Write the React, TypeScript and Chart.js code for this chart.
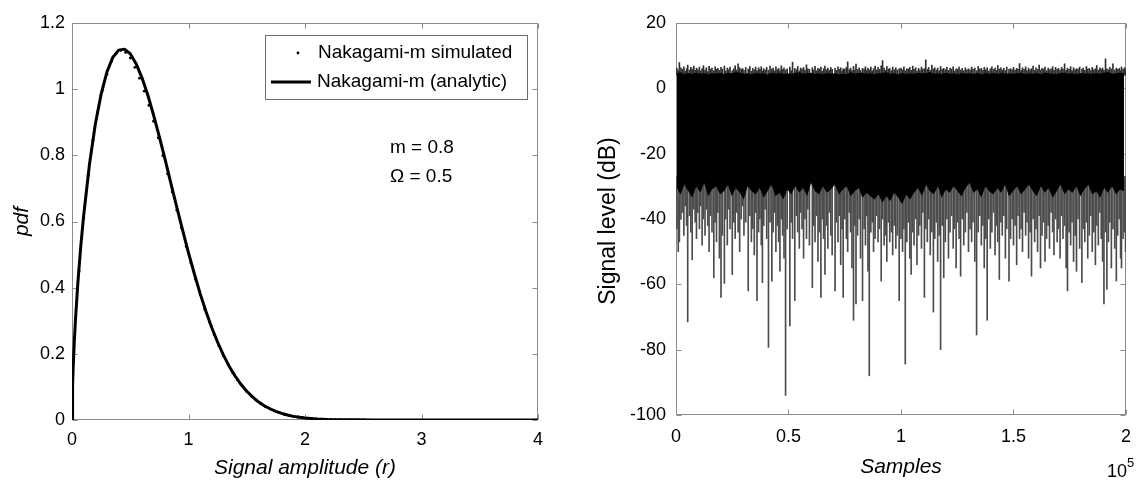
import React, { useEffect, useRef } from "react";
import { Chart, registerables } from "chart.js";

Chart.register(...registerables);

const FONT = '"Liberation Sans", Arial, Helvetica, sans-serif';

// ---------------- Left panel: Nakagami-m pdf ----------------
const rTicks = [0, 1, 2, 3, 4];
const pdfTicks = [0, 0.2, 0.4, 0.6, 0.8, 1, 1.2];

const analyticR = [0, 0.005, 0.01, 0.02, 0.03, 0.05, 0.075, 0.1, 0.15, 0.2, 0.25, 0.3, 0.35, 0.4, 0.45, 0.5, 0.55, 0.6, 0.65, 0.7, 0.75, 0.8, 0.85, 0.9, 0.95, 1.0, 1.05, 1.1, 1.15, 1.2, 1.25, 1.3, 1.35, 1.4, 1.45, 1.5, 1.55, 1.6, 1.65, 1.7, 1.75, 1.8, 1.85, 1.9, 1.95, 2.0, 2.1, 2.2, 2.3, 2.4, 2.6, 3.0, 3.5, 4.0];
const analyticPdf = [0, 0.104, 0.158, 0.239, 0.305, 0.413, 0.524, 0.618, 0.773, 0.894, 0.985, 1.052, 1.096, 1.118, 1.121, 1.107, 1.077, 1.035, 0.983, 0.922, 0.856, 0.786, 0.714, 0.643, 0.573, 0.505, 0.442, 0.382, 0.328, 0.279, 0.235, 0.196, 0.162, 0.133, 0.108, 0.087, 0.070, 0.055, 0.043, 0.034, 0.026, 0.020, 0.015, 0.011, 0.0085, 0.0063, 0.0034, 0.0017, 0.0008, 0.0004, 0.0001, 0, 0, 0];

const simR = [0.02, 0.06, 0.10, 0.14, 0.18, 0.22, 0.26, 0.30, 0.34, 0.38, 0.42, 0.46, 0.50, 0.54, 0.58, 0.62, 0.66, 0.70, 0.74, 0.78, 0.82, 0.86, 0.90, 0.94, 0.98, 1.02, 1.06, 1.10, 1.14, 1.18, 1.22, 1.26, 1.30, 1.34, 1.38, 1.42, 1.46, 1.50, 1.54, 1.58, 1.62, 1.66, 1.70, 1.74, 1.78, 1.82, 1.86, 1.90, 1.94, 1.98, 2.02, 2.06, 2.10, 2.14, 2.18, 2.22, 2.26, 2.30, 2.34, 2.38, 2.42, 2.46, 2.50];
const simPdf = [0.25, 0.45, 0.61, 0.74, 0.845, 0.93, 0.995, 1.045, 1.085, 1.108, 1.117, 1.111, 1.094, 1.066, 1.033, 0.994, 0.951, 0.903, 0.853, 0.799, 0.744, 0.689, 0.634, 0.580, 0.525, 0.475, 0.425, 0.379, 0.335, 0.296, 0.258, 0.225, 0.194, 0.167, 0.143, 0.121, 0.103, 0.086, 0.072, 0.060, 0.049, 0.040, 0.033, 0.027, 0.022, 0.017, 0.014, 0.011, 0.009, 0.007, 0.0055, 0.0043, 0.0033, 0.0026, 0.002, 0.0015, 0.0011, 0.0008, 0.0006, 0.0004, 0.0003, 0.0002, 0.0001];

// ---------------- Right panel: signal level (dB) vs samples (x in units of 10^5) ----------------
const sampleTicks = [0, 0.5, 1, 1.5, 2];
const dbTicks = [-100, -80, -60, -40, -20, 0, 20];

// edges of the dense black core
const edgeX = [0.004, 0.02, 0.037, 0.055, 0.072, 0.09, 0.108, 0.125, 0.143, 0.16, 0.178, 0.196, 0.213, 0.231, 0.248, 0.266, 0.284, 0.301, 0.319, 0.336, 0.354, 0.372, 0.389, 0.407, 0.424, 0.442, 0.46, 0.477, 0.495, 0.512, 0.53, 0.548, 0.565, 0.583, 0.6, 0.618, 0.636, 0.653, 0.671, 0.688, 0.706, 0.724, 0.741, 0.759, 0.776, 0.794, 0.812, 0.829, 0.847, 0.864, 0.882, 0.9, 0.917, 0.935, 0.952, 0.97, 0.988, 1.005, 1.023, 1.04, 1.058, 1.076, 1.093, 1.111, 1.128, 1.146, 1.164, 1.181, 1.199, 1.216, 1.234, 1.252, 1.269, 1.287, 1.304, 1.322, 1.34, 1.357, 1.375, 1.392, 1.41, 1.428, 1.445, 1.463, 1.48, 1.498, 1.516, 1.533, 1.551, 1.568, 1.586, 1.604, 1.621, 1.639, 1.656, 1.674, 1.692, 1.709, 1.727, 1.744, 1.762, 1.78, 1.797, 1.815, 1.832, 1.85, 1.868, 1.885, 1.903, 1.92, 1.938, 1.956, 1.973, 1.991];
const edgeTop = [
  4.6, 4.9, 4.3, 4.7, 4.4, 4.8, 4.5, 4.6, 4.3, 4.7,
  4.5, 4.8, 4.4, 4.7, 4.6, 4.9, 4.8, 4.4, 4.6, 4.3,
  4.7, 4.5, 4.6, 4.2, 4.8, 4.5, 4.7, 4.4, 4.6, 4.5,
  4.8, 4.9, 4.5, 4.6, 4.8, 4.4, 4.6, 4.3, 4.7, 4.5,
  4.6, 4.3, 4.5, 4.4, 4.9, 4.5, 4.7, 4.8, 4.4, 4.6,
  4.3, 4.6, 4.7, 4.9, 4.5, 4.6, 4.3, 4.7, 4.4, 4.6,
  4.5, 4.7, 4.6, 4.6, 5.0, 4.5, 4.6, 4.4, 4.8, 4.5,
  4.6, 4.3, 4.7, 4.5, 4.6, 4.4, 4.7, 4.3, 4.6, 4.5,
  4.7, 4.4, 4.8, 4.5, 4.6, 4.5, 4.6, 4.8, 4.4, 4.6,
  4.5, 4.7, 4.3, 4.8, 4.6, 4.5, 4.4, 4.7, 4.8, 4.5,
  4.6, 4.3, 4.7, 4.5, 4.6, 4.4, 4.7, 4.5, 4.8, 5.0,
  4.5, 4.6, 4.8, 4.6,
];
const edgeBottom = [
  -30.5, -32.5, -29.5, -31.5, -33.5, -30, -32, -29, -33, -31,
  -30, -32.5, -31.5, -29.5, -33, -30.5, -32, -34, -30, -31.5,
  -32.5, -30.5, -33.5, -31.5, -29.5, -33, -32, -34, -31, -32.5,
  -30, -32, -30.5, -33, -29, -31.5, -32.5, -30, -32, -31,
  -29.5, -32.5, -31, -30, -33, -31.5, -30.5, -33.5, -32, -33,
  -34, -32.5, -35, -33, -34.5, -32, -33.5, -35.5, -32.5, -34,
  -32, -30.5, -33, -29.5, -31.5, -32.5, -30, -33.5, -31, -32,
  -30, -31.5, -33, -30.5, -29, -32, -31, -33.5, -30, -31.5,
  -32.5, -30.5, -32, -29.5, -33, -31.5, -30, -32.5, -31, -29.5,
  -31.5, -33, -30, -32, -30.5, -33.5, -31.5, -29.5, -32.5, -31,
  -32, -30, -33, -31, -29.5, -32.5, -31.5, -33.5, -30.5, -32,
  -30, -32.5, -31, -31.5,
];

// individual samples: position, upper excursion and fade depth
const spikeX = [
  0.004, 0.01, 0.015, 0.022, 0.028, 0.035, 0.041, 0.047, 0.052, 0.06, 0.066, 0.072, 0.079, 0.085, 0.091, 0.097,
  0.104, 0.11, 0.116, 0.122, 0.129, 0.135, 0.141, 0.147, 0.153, 0.16, 0.168, 0.174, 0.18, 0.186, 0.193, 0.2,
  0.206, 0.215, 0.221, 0.228, 0.234, 0.24, 0.25, 0.257, 0.263, 0.27, 0.276, 0.283, 0.29, 0.296,
  0.302, 0.31, 0.321, 0.328, 0.335, 0.341, 0.348, 0.354, 0.36, 0.367, 0.373, 0.379, 0.384, 0.39, 0.396,
  0.403, 0.411, 0.418, 0.426, 0.432, 0.438, 0.444, 0.45, 0.456, 0.462, 0.468, 0.474, 0.48, 0.487, 0.494,
  0.506, 0.512, 0.518, 0.528, 0.535, 0.541, 0.548, 0.554, 0.56, 0.567, 0.573, 0.58, 0.586, 0.593,
  0.606, 0.612, 0.618, 0.625, 0.631, 0.637, 0.644, 0.65, 0.656, 0.662, 0.669, 0.675, 0.682, 0.688, 0.694,
  0.707, 0.713, 0.72, 0.726, 0.732, 0.738, 0.743, 0.75, 0.757, 0.763, 0.77, 0.776, 0.782, 0.789, 0.795,
  0.8, 0.807, 0.814, 0.82, 0.829, 0.836, 0.842, 0.848, 0.853, 0.859, 0.866, 0.872, 0.878, 0.885, 0.892,
  0.898, 0.905, 0.912, 0.918, 0.925, 0.931, 0.937, 0.944, 0.95, 0.957, 0.963, 0.97, 0.977, 0.984, 0.992,
  1.0, 1.007, 1.013, 1.019, 1.026, 1.032, 1.039, 1.045, 1.052, 1.058, 1.065, 1.071, 1.078, 1.084, 1.091, 1.097,
  1.104, 1.11, 1.117, 1.123, 1.13, 1.137, 1.144, 1.15, 1.157, 1.163, 1.17, 1.176, 1.183, 1.19, 1.197,
  1.204, 1.211, 1.218, 1.225, 1.232, 1.238, 1.245, 1.252, 1.258, 1.265, 1.272, 1.279, 1.286, 1.293,
  1.3, 1.307, 1.314, 1.32, 1.328, 1.336, 1.343, 1.35, 1.357, 1.364, 1.37, 1.377, 1.383, 1.39, 1.397,
  1.404, 1.411, 1.418, 1.424, 1.43, 1.437, 1.444, 1.45, 1.457, 1.464, 1.47, 1.48, 1.487, 1.494,
  1.5, 1.507, 1.514, 1.52, 1.527, 1.534, 1.54, 1.547, 1.554, 1.56, 1.567, 1.574, 1.58, 1.587, 1.594,
  1.6, 1.607, 1.614, 1.62, 1.627, 1.634, 1.64, 1.647, 1.654, 1.66, 1.667, 1.674, 1.68, 1.687, 1.694,
  1.7, 1.707, 1.714, 1.72, 1.727, 1.734, 1.74, 1.747, 1.754, 1.76, 1.767, 1.774, 1.78, 1.787, 1.794,
  1.804, 1.81, 1.817, 1.824, 1.83, 1.837, 1.844, 1.85, 1.857, 1.864, 1.87, 1.877, 1.884, 1.89, 1.896,
  1.902, 1.909, 1.915, 1.922, 1.928, 1.935, 1.942, 1.95, 1.957, 1.963, 1.97, 1.976, 1.98, 1.987, 1.994, 1.998,
];
const spikeMax = [
  6.1, 5.4, 7.9, 6.3, 5.8, 6.6, 5.2, 6.0, 7.1, 5.6, 6.4, 5.9, 6.8, 5.5, 6.2, 5.7,
  6.5, 5.3, 6.0, 6.9, 5.6, 6.3, 5.1, 6.7, 5.9, 6.2, 5.4, 6.6, 5.8, 6.1, 5.5, 6.4,
  5.9, 6.8, 5.3, 6.2, 5.7, 6.5, 5.4, 6.0, 6.9, 5.6, 7.5, 6.3, 5.8, 6.1,
  5.5, 6.4, 5.9, 6.7, 5.2, 6.1, 5.7, 6.5, 5.4, 6.3, 5.8, 6.6, 5.3, 6.0, 5.6,
  6.4, 5.5, 6.8, 5.9, 6.2, 5.3, 6.6, 5.7, 6.1, 5.4, 6.9, 5.8, 6.3, 5.6, 6.0,
  6.5, 5.4, 8.0, 6.1, 5.7, 6.7, 5.3, 6.2, 5.9, 6.4, 5.5, 7.2, 6.0, 5.8,
  6.3, 5.6, 6.7, 5.4, 6.1, 5.9, 6.5, 5.2, 6.0, 6.8, 5.7, 6.2, 5.5, 6.4, 5.8,
  6.1, 5.5, 6.6, 5.8, 6.3, 5.3, 6.0, 5.9, 6.4, 8.1, 5.7, 6.2, 5.4, 6.7, 5.6,
  7.4, 5.8, 6.3, 5.5, 6.1, 5.9, 6.6, 5.4, 6.2, 5.7, 6.5, 5.3, 6.0, 6.8, 5.6,
  6.4, 5.8, 6.9, 8.5, 6.2, 5.5, 6.7, 5.9, 6.1, 5.4, 6.5, 5.7, 6.3, 5.6, 6.0,
  6.2, 5.7, 6.6, 5.4, 6.0, 5.9, 6.4, 5.5, 6.8, 5.8, 6.3, 5.3, 6.1, 5.6, 6.5, 5.9,
  6.0, 8.7, 5.8, 6.4, 5.5, 7.1, 5.9, 6.3, 5.6, 6.2, 5.4, 6.7, 5.8, 6.1, 5.7,
  6.4, 5.5, 6.2, 5.9, 6.6, 5.3, 6.0, 5.8, 6.5, 5.6, 6.1, 5.4, 6.3, 5.7,
  6.0, 5.6, 6.5, 5.8, 6.2, 5.4, 6.7, 5.9, 6.1, 5.5, 6.4, 5.7, 6.3, 5.3, 6.0,
  6.6, 5.8, 6.2, 5.5, 7.0, 5.9, 6.3, 5.6, 6.1, 5.4, 6.5, 5.8, 6.0, 5.7,
  6.4, 5.6, 6.1, 5.9, 7.6, 5.5, 6.3, 5.8, 6.6, 5.4, 6.2, 5.7, 6.0, 6.8, 5.5,
  6.3, 5.8, 7.1, 5.6, 6.1, 5.9, 6.5, 5.4, 6.2, 5.7, 6.0, 6.6, 5.5, 6.4, 5.8,
  6.1, 5.6, 6.4, 5.9, 7.5, 5.5, 6.2, 5.8, 6.6, 5.4, 6.3, 5.7, 6.0, 5.9, 6.5,
  5.8, 6.2, 5.5, 6.7, 5.9, 6.1, 5.4, 6.4, 5.7, 6.0, 7.0, 5.6, 6.3, 5.8, 6.2,
  5.5, 9.0, 6.0, 5.7, 6.4, 5.9, 7.5, 5.6, 6.2, 5.8, 6.1, 5.4, 6.5, 5.9, 6.3, 5.7,
];
const spikeMin = [
  -43, -50, -47, -40, -38, -45, -36, -42, -71.5, -39, -44, -52.5, -37, -41, -46, -38,
  -43, -36, -48, -40, -45, -37, -42, -50, -39, -44, -58, -41, -47, -38, -52, -64,
  -45, -59.7, -40, -48, -37, -43, -57, -41, -46, -38, -44, -50, -40, -36,
  -45, -41, -62, -39, -47, -43, -51, -38, -65, -44, -40, -48, -59.5, -42, -37,
  -46, -79.3, -41, -59, -44, -38, -50, -42, -47, -56, -40, -45, -52, -94, -43,
  -72.7, -41, -46, -65, -39, -44, -49, -38, -43, -52, -40, -46, -37, -48,
  -61, -42, -47, -39, -53, -44, -64, -40, -46, -57, -42, -49, -38, -45, -51,
  -62, -41, -47, -39, -54, -43, -64, -40, -46, -50, -38, -44, -55, -71, -42,
  -66, -45, -40, -52, -65, -43, -48, -39, -56, -88, -44, -41, -50, -46, -39,
  -47, -43, -59, -40, -48, -45, -53, -41, -47, -44, -51, -42, -49, -45, -65,
  -46, -50, -43, -84.4, -47, -41, -52, -57, -44, -48, -40, -54, -45, -42, -49, -38,
  -64, -43, -47, -40, -51, -44, -68.5, -46, -41, -53, -45, -80, -42, -58, -47,
  -40, -52, -44, -39, -49, -43, -55, -41, -46, -57.5, -40, -48, -44, -38,
  -50, -43, -47, -41, -53, -75.5, -44, -39, -48, -42, -55, -46, -71, -40, -49,
  -44, -38, -51, -42, -47, -58.5, -41, -45, -39, -52, -43, -59, -46, -40,
  -48, -42, -54, -39, -46, -43, -50, -38, -45, -41, -52, -44, -57.5, -40, -47,
  -43, -50, -39, -55, -45, -41, -53, -46, -42, -49, -38, -44, -51, -40, -47,
  -43, -52, -39, -46, -42, -55, -62, -44, -48, -41, -53, -45, -56, -40, -49,
  -59.5, -43, -47, -41, -52, -45, -39, -50, -44, -54, -42, -48, -38, -46, -53,
  -66, -44, -61.5, -47, -41, -55, -43, -49, -59, -45, -40, -52, -55, -46, -44, -50,
];

// ---------------- helpers ----------------
function boxPlugin(xTicks: number[], yTicks: number[]) {
  return {
    id: "matlabBox",
    beforeDatasetsDraw(chart: any) {
      const { ctx, chartArea: a, scales } = chart;
      const L = Math.round(a.left) + 0.5;
      const R = Math.round(a.right) - 0.5;
      const T = Math.round(a.top) + 0.5;
      const B = Math.round(a.bottom) - 0.5;
      ctx.save();
      ctx.strokeStyle = "#8c8c8c";
      ctx.lineWidth = 1;
      ctx.strokeRect(L, T, R - L, B - T);
      const tl = 5;
      ctx.beginPath();
      for (const v of xTicks) {
        const px = Math.round(scales.x.getPixelForValue(v)) + 0.5;
        ctx.moveTo(px, B);
        ctx.lineTo(px, B - tl);
        ctx.moveTo(px, T);
        ctx.lineTo(px, T + tl);
      }
      for (const v of yTicks) {
        const py = Math.round(scales.y.getPixelForValue(v)) + 0.5;
        ctx.moveTo(L, py);
        ctx.lineTo(L + tl, py);
        ctx.moveTo(R, py);
        ctx.lineTo(R - tl, py);
      }
      ctx.stroke();
      ctx.restore();
    },
  };
}

function setTicks(list: number[]) {
  return (scale: any) => {
    scale.ticks = list.map((v) => ({ value: v }));
  };
}

const tickFont = { family: FONT, size: 18 };

function makeLeft(): any {
  const decor = {
    id: "leftDecor",
    afterDraw(chart: any) {
      const { ctx, chartArea: a, data } = chart;
      ctx.save();
      ctx.fillStyle = "#000";
      ctx.font = `italic 21px ${FONT}`;
      ctx.textAlign = "center";
      ctx.textBaseline = "middle";
      ctx.fillText("Signal amplitude (r)", (a.left + a.right) / 2, 468);
      ctx.save();
      ctx.translate(22, (a.top + a.bottom) / 2);
      ctx.rotate(-Math.PI / 2);
      ctx.fillText("pdf", 0, 0);
      ctx.restore();
      // legend
      const bx = 265.5, by = 35.5, bw = 262, bh = 64;
      ctx.fillStyle = "#fff";
      ctx.fillRect(bx, by, bw, bh);
      ctx.strokeStyle = "#6e6e6e";
      ctx.lineWidth = 1;
      ctx.strokeRect(bx, by, bw, bh);
      ctx.fillStyle = "#000";
      ctx.beginPath();
      ctx.arc(298, 53, 1.4, 0, Math.PI * 2);
      ctx.fill();
      ctx.strokeStyle = "#000";
      ctx.lineWidth = 3;
      ctx.beginPath();
      ctx.moveTo(271, 82);
      ctx.lineTo(311, 82);
      ctx.stroke();
      ctx.font = `19px ${FONT}`;
      ctx.textAlign = "left";
      ctx.textBaseline = "middle";
      ctx.fillText(data.datasets[0].label, 318, 53);
      ctx.fillText(data.datasets[1].label, 317, 82);
      ctx.fillText("m = 0.8", 390, 148);
      ctx.fillText("\u03A9 = 0.5", 390, 177);
      ctx.restore();
    },
  };
  return {
    type: "line",
    data: {
      datasets: [
        {
          label: "Nakagami-m simulated",
          data: simR.map((x, i) => ({ x, y: simPdf[i] })),
          showLine: false,
          pointRadius: 1.4,
          pointBorderWidth: 0,
          pointBackgroundColor: "#000",
          borderColor: "#000",
        },
        {
          label: "Nakagami-m (analytic)",
          data: analyticR.map((x, i) => ({ x, y: analyticPdf[i] })),
          borderColor: "#000",
          borderWidth: 3,
          pointRadius: 0,
          borderJoinStyle: "round",
          borderCapStyle: "round",
          fill: false,
        },
      ],
    },
    options: {
      animation: false,
      responsive: false,
      events: [],
      layout: { padding: { left: 0, top: 23, right: 42, bottom: 0 }, autoPadding: false },
      plugins: { legend: { display: false }, tooltip: { enabled: false } },
      scales: {
        x: {
          type: "linear",
          min: 0,
          max: 4,
          grid: { display: false, drawTicks: false },
          border: { display: false },
          ticks: { font: tickFont, color: "#000", padding: 9, maxRotation: 0, callback: (v: number) => String(v) },
          afterBuildTicks: setTicks(rTicks),
          afterFit: (s: any) => { s.height = 64; },
        },
        y: {
          type: "linear",
          min: 0,
          max: 1.2,
          grid: { display: false, drawTicks: false },
          border: { display: false },
          ticks: { font: tickFont, color: "#000", padding: 7, callback: (v: number) => String(v) },
          afterBuildTicks: setTicks(pdfTicks),
          afterFit: (s: any) => { s.width = 72; },
        },
      },
    },
    plugins: [boxPlugin(rTicks, pdfTicks), decor],
  };
}

function makeRight(): any {
  const decor = {
    id: "rightDecor",
    afterDraw(chart: any) {
      const { ctx, chartArea: a } = chart;
      ctx.save();
      ctx.fillStyle = "#000";
      ctx.font = `italic 21px ${FONT}`;
      ctx.textAlign = "center";
      ctx.textBaseline = "middle";
      ctx.fillText("Samples", (a.left + a.right) / 2, 467);
      ctx.save();
      ctx.translate(29, (a.top + a.bottom) / 2 + 2);
      ctx.rotate(-Math.PI / 2);
      ctx.font = `23px ${FONT}`;
      ctx.fillText("Signal level (dB)", 0, 0);
      ctx.restore();
      ctx.textAlign = "left";
      ctx.textBaseline = "alphabetic";
      ctx.font = `18px ${FONT}`;
      ctx.fillText("10", 527, 477);
      ctx.font = `13px ${FONT}`;
      ctx.fillText("5", 547, 467);
      ctx.restore();
    },
  };
  return {
    type: "bar",
    data: {
      datasets: [
        {
          type: "line",
          label: "core upper edge",
          data: edgeX.map((x, i) => ({ x, y: edgeTop[i] })),
          borderWidth: 0,
          borderColor: "#000",
          pointRadius: 0,
          backgroundColor: "#000",
          fill: "+1",
        },
        {
          type: "line",
          label: "core lower edge",
          data: edgeX.map((x, i) => ({ x, y: edgeBottom[i] })),
          borderWidth: 0,
          borderColor: "#000",
          pointRadius: 0,
          fill: false,
        },
        {
          type: "bar",
          label: "peaks",
          data: spikeX.map((x, i) => ({ x, y: [4, spikeMax[i]] })),
          backgroundColor: "#2e2e2e",
          borderWidth: 0,
          barThickness: 1,
          grouped: false,
        },
        {
          type: "bar",
          label: "fades",
          data: spikeX.map((x, i) => ({ x, y: [-27, spikeMin[i]] })),
          backgroundColor: "#4c4c4c",
          borderWidth: 0,
          barThickness: 1,
          grouped: false,
        },
      ],
    },
    options: {
      animation: false,
      responsive: false,
      events: [],
      layout: { padding: { left: 0, top: 23, right: 2, bottom: 0 }, autoPadding: false },
      plugins: { legend: { display: false }, tooltip: { enabled: false } },
      scales: {
        x: {
          type: "linear",
          min: 0,
          max: 2,
          offset: false,
          grid: { display: false, drawTicks: false, offset: false },
          border: { display: false },
          ticks: { font: tickFont, color: "#000", padding: 11, maxRotation: 0, callback: (v: number) => String(v) },
          afterBuildTicks: setTicks(sampleTicks),
          afterFit: (s: any) => { s.height = 69; },
        },
        y: {
          type: "linear",
          min: -100,
          max: 20,
          grid: { display: false, drawTicks: false },
          border: { display: false },
          ticks: { font: tickFont, color: "#000", padding: 10, callback: (v: number) => String(v) },
          afterBuildTicks: setTicks(dbTicks),
          afterFit: (s: any) => { s.width = 96; },
        },
      },
    },
    plugins: [boxPlugin(sampleTicks, dbTicks), decor],
  };
}

function ChartCanvas({ left, width, height, make }: { left: number; width: number; height: number; make: () => any }) {
  const ref = useRef<HTMLCanvasElement>(null);
  useEffect(() => {
    const chart = new Chart(ref.current as HTMLCanvasElement, make());
    return () => chart.destroy();
  }, []);
  return (
    <canvas
      ref={ref}
      width={width}
      height={height}
      style={{ position: "absolute", left, top: 0, width, height, display: "block" }}
    />
  );
}

export default function App() {
  return (
    <div style={{ position: "fixed", left: 0, top: 0, width: 1142, height: 484, background: "#fff", overflow: "hidden" }}>
      <ChartCanvas left={0} width={580} height={484} make={makeLeft} />
      <ChartCanvas left={580} width={562} height={484} make={makeRight} />
    </div>
  );
}
